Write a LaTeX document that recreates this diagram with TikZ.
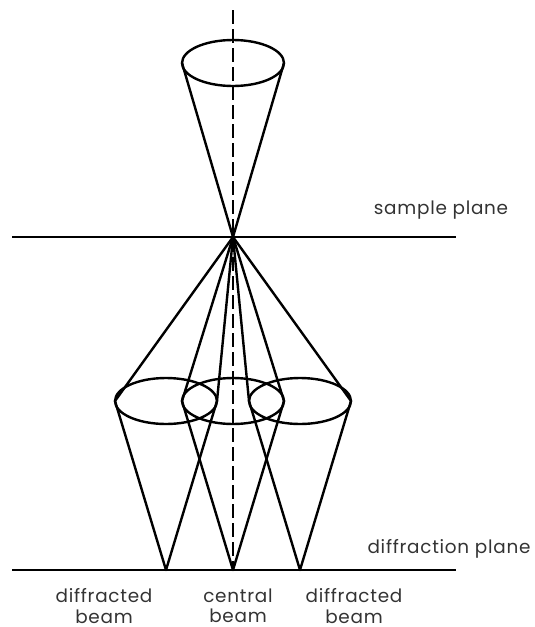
\documentclass[tikz,border=0pt]{standalone}
\usepackage{fontspec}
\setmainfont{Poppins}[LetterSpace=4]
\usetikzlibrary{shapes.geometric}
\begin{document}
\begin{tikzpicture}[
    x=1pt, y=-1pt,
    beam/.style={line width=2.4pt, line join=round},
    axisline/.style={line width=2.4pt, dash pattern=on 14pt off 5pt},
    cone/.style={draw, ellipse, line width=2.4pt, minimum width=102pt, minimum height=46pt, inner sep=0pt, outer sep=0pt},
    lbl/.style={font=\fontsize{18.4}{20.5}\selectfont, align=center, text=black!80, inner sep=0pt}]
  \useasboundingbox (0,0) rectangle (535,627);
  % planes
  \coordinate (focus) at (233,237);
  \coordinate (sampleL) at (12,237);
  \coordinate (sampleR) at (456,237);
  \coordinate (diffL) at (12,570);
  \coordinate (diffR) at (456,570);
  \coordinate (axistop) at (233,10);
  \coordinate (axisbot) at (233,570);
  \draw[beam] (sampleL) -- (sampleR);
  \draw[beam] (diffL) -- (diffR);
  \draw[axisline] (axistop) -- (axisbot);
  % incident cone
  \node[cone] (incident) at (233,63) {};
  \draw[beam] (incident.west) -- (focus) -- (incident.east);
  % diffracted cones
  \foreach \name/\xpos in {left/166, mid/233, right/300} {
    \node[cone] (\name) at (\xpos,401) {};
    \coordinate (\name spot) at (\xpos,570);
    \draw[beam] (focus) -- (\name.west) -- (\name spot) -- (\name.east) -- (focus);
  }
  % labels
  \node[lbl] (samplelbl) at (441,210) {sample plane};
  \node[lbl] (difflbl) at (449,549) {diffraction plane};
  \node[lbl] (leftlbl) at (104,606) {diffracted\\beam};
  \node[lbl] (midlbl) at (238,606) {central\\beam};
  \node[lbl] (rightlbl) at (354,606) {diffracted\\beam};
\end{tikzpicture}
\end{document}
